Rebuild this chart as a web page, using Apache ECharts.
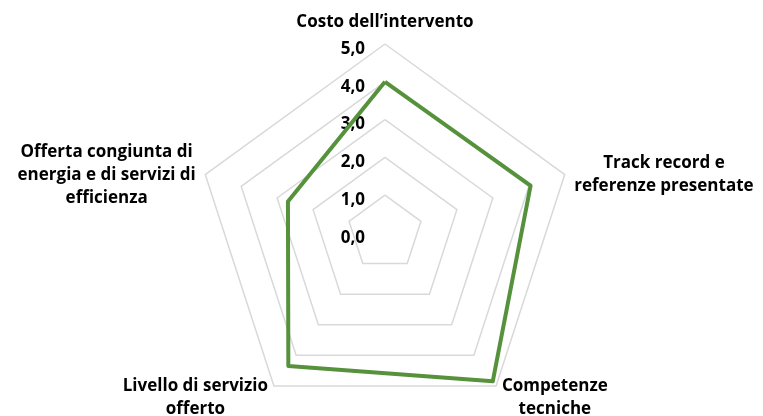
<!DOCTYPE html>
<html>
<head>
<meta charset="utf-8">
<script src="https://cdn.jsdelivr.net/npm/echarts@6/dist/echarts.min.js"></script>
<style>
  html, body { margin: 0; padding: 0; background: #fff; }
  #chart { width: 763px; height: 416px; }
</style>
</head>
<body>
<div id="chart"></div>
<script>
// indicators listed in the order echarts walks round the radar (counter-clockwise from top)
const categories = [
  'Costo dell\u2019intervento',
  'Offerta congiunta di\nenergia e di servizi di\nefficienza',
  'Livello di servizio\nofferto',
  'Competenze\ntecniche',
  'Track record e\nreferenze presentate'
]
const scores = [4.0, 2.7, 4.35, 4.85, 4.05]
const axisMax = 5

const chart = echarts.init(document.getElementById('chart'))

const font = '"Open Sans", Lato, sans-serif'
const fontSize = 17

// value labels only on the top (first) axis
const valueLabel = {
  show: true,
  margin: 20,
  color: '#000',
  fontFamily: font,
  fontWeight: 'bold',
  fontSize: fontSize,
  verticalAlign: 'top',
  lineHeight: 10,
  formatter: (v) => v.toFixed(1).replace('.', ',')
}

const option = {
  animation: false,
  radar: {
    center: [385, 233],
    radius: 189,
    startAngle: 90,
    shape: 'polygon',
    splitNumber: 5,
    nameGap: 10,
    indicator: categories.map((name, i) => ({
      name: name,
      min: 0,
      max: axisMax,
      axisLabel: i === 0 ? valueLabel : { show: false }
    })),
    axisName: {
      color: '#000',
      fontFamily: font,
      fontWeight: 'bold',
      fontSize: fontSize,
      lineHeight: 23,
      padding: [7, 0, 0, 0],
      formatter: (txt) => txt.split('\n').map(s => '{c|' + s + '}').join('\n'),
      rich: {
        c: { align: 'center', color: '#000', fontFamily: font, fontWeight: 'bold', fontSize: fontSize, lineHeight: 23 }
      }
    },
    axisLine: { show: false },
    axisTick: { show: false },
    splitLine: { lineStyle: { color: '#d9d9d9', width: 1.5 } },
    splitArea: { show: false }
  },
  series: [{
    type: 'radar',
    symbol: 'none',
    lineStyle: { color: '#56913c', width: 4 },
    data: [{ value: scores, name: 'Valutazione' }]
  }]
}

chart.setOption(option)
</script>
</body>
</html>
